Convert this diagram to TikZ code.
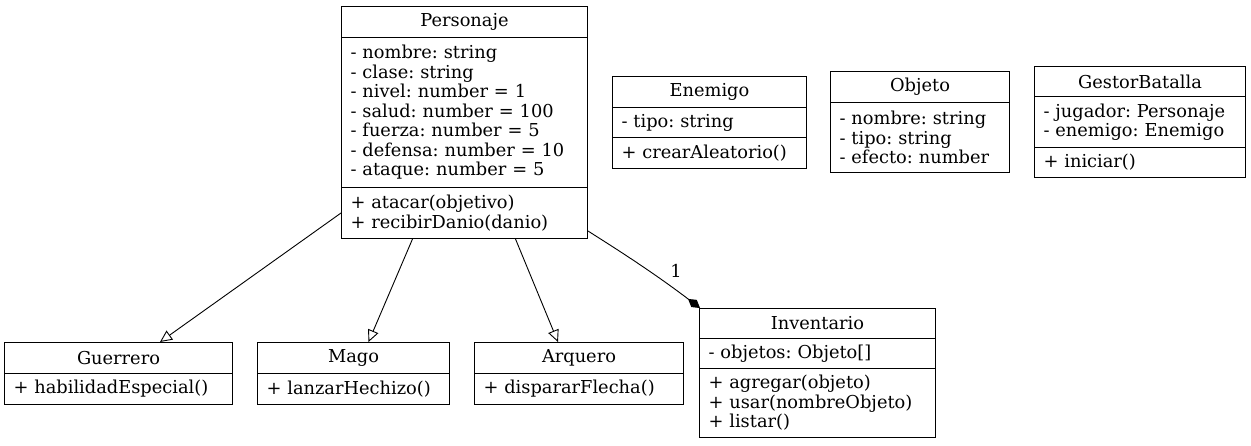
\documentclass[tikz,border=0pt]{standalone}
\usepackage{fontspec}
\setmainfont{DejaVu Serif}
\usetikzlibrary{arrows.meta}
\newcommand{\bottompad}[1]{\par\vspace*{#1}}
\begin{document}
\frenchspacing
\begin{tikzpicture}[x=1pt,y=-1pt,
  every node/.style={font=\fontsize{17.8}{19.5}\selectfont\frenchspacing},
  ttl/.style={draw, line width=1pt, anchor=north west, inner sep=0pt, align=center},
  comp/.style={draw, line width=1pt, anchor=north west, inner xsep=9pt, inner ysep=0pt, align=left},
  gen/.style={line width=0.9pt, -{Triangle[open,length=12pt,width=11pt,fill=white]}},
  compo/.style={line width=0.9pt, -{Diamond[length=15pt,width=9pt]}}]
\useasboundingbox (0,0) rectangle (1251,445);
% Personaje
\node[ttl, minimum width=246, minimum height=31] (pers) at (341,6) {Personaje};
\node[comp, text width=228, minimum height=150] (persA) at (341,37) {- nombre: string\\- clase: string\\- nivel: number = 1\\- salud: number = 100\\- fuerza: number = 5\\- defensa: number = 10\\- ataque: number = 5\bottompad{3pt}};
\node[comp, text width=228, minimum height=51] (persM) at (341,187) {+ atacar(objetivo)\\+ recibirDanio(danio)};
% Enemigo
\node[ttl, minimum width=194, minimum height=31] (ene) at (612,76) {Enemigo};
\node[comp, text width=176, minimum height=30] (eneA) at (612,107) {- tipo: string};
\node[comp, text width=176, minimum height=31] (eneM) at (612,137) {+ crearAleatorio()};
% Objeto
\node[ttl, minimum width=179, minimum height=31] (obj) at (830,71) {Objeto};
\node[comp, text width=161, minimum height=70] (objA) at (830,102) {- nombre: string\\- tipo: string\\- efecto: number};
% GestorBatalla
\node[ttl, minimum width=211, minimum height=30] (gest) at (1034,66) {GestorBatalla};
\node[comp, text width=193, minimum height=51] (gestA) at (1034,96) {- jugador: Personaje\\- enemigo: Enemigo};
\node[comp, text width=193, minimum height=30] (gestM) at (1034,147) {+ iniciar()};
% Guerrero
\node[ttl, minimum width=228, minimum height=31] (guer) at (4,342) {Guerrero};
\node[comp, text width=210, minimum height=31] (guerM) at (4,373) {+ habilidadEspecial()};
% Mago
\node[ttl, minimum width=192, minimum height=31] (mago) at (257,342) {Mago};
\node[comp, text width=174, minimum height=31] (magoM) at (257,373) {+ lanzarHechizo()};
% Arquero
\node[ttl, minimum width=209, minimum height=31] (arq) at (474,342) {Arquero};
\node[comp, text width=191, minimum height=31] (arqM) at (474,373) {+ dispararFlecha()};
% Inventario
\node[ttl, minimum width=236, minimum height=30] (inv) at (699,308) {Inventario};
\node[comp, text width=218, minimum height=30] (invA) at (699,338) {- objetos: Objeto[]};
\node[comp, text width=218, minimum height=69] (invM) at (699,368) {+ agregar(objeto)\\+ usar(nombreObjeto)\\+ listar()};
% connectors
\draw[gen] (persM.west) -- ([xshift=156pt]guer.north west);
\draw[gen] ([xshift=-52pt]persM.south) -- ([xshift=15pt]mago.north);
\draw[gen] ([xshift=51pt]persM.south) -- ([xshift=-21pt]arq.north);
\draw[compo] ([yshift=-18pt]persM.east) .. controls (610,245) and (650,270) .. ([xshift=1pt]inv.north west);
\node (one) at (676,271) {1};
\end{tikzpicture}
\end{document}
